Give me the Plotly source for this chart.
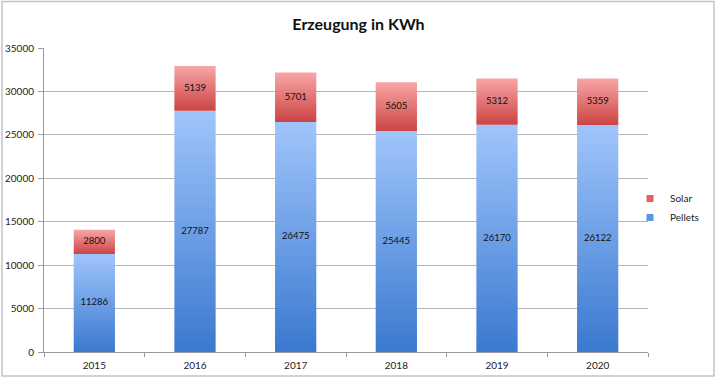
import plotly.graph_objects as go

years = [2015, 2016, 2017, 2018, 2019, 2020]
pellets = [11286, 27787, 26475, 25445, 26170, 26122]
solar = [2800, 5139, 5701, 5605, 5312, 5359]
y_ticks = [0, 5000, 10000, 15000, 20000, 25000, 30000, 35000]

FONT = "Lato"
BAR_W = 0.41
blue_scale = [[0, "#3A79CF"], [1, "#A0C5FC"]]
red_scale = [[0, "#CC4444"], [1, "#F8A6A6"]]

fig = go.Figure()

def add_segments(bases, values, scale, name):
    for x, b, v in zip(years, bases, values):
        top = b + v
        h = BAR_W / 2
        fig.add_trace(go.Scatter(
            x=[x - h, x + h, x + h, x - h, x - h],
            y=[b, b, top, top, b],
            mode="lines", line=dict(width=0, color="rgba(0,0,0,0)"),
            fill="toself",
            fillgradient=dict(type="vertical", colorscale=scale, start=b, stop=top),
            showlegend=False, hoverinfo="skip", name=name,
        ))
    fig.add_trace(go.Scatter(
        x=years, y=[b + v / 2 for b, v in zip(bases, values)],
        mode="text", text=[str(v) for v in values],
        textfont=dict(family=FONT, size=9.5, color="#111111"),
        showlegend=False, hoverinfo="skip",
    ))

add_segments([0] * len(years), pellets, blue_scale, "Pellets")
add_segments(pellets, solar, red_scale, "Solar")

# legend entries
fig.add_trace(go.Scatter(x=[None], y=[None], mode="markers", name="Pellets",
                         marker=dict(symbol="square", size=7, color="#5D95E6")))
fig.add_trace(go.Scatter(x=[None], y=[None], mode="markers", name="Solar",
                         marker=dict(symbol="square", size=7, color="#E06464")))

L, R, T, B = 44, 69, 48, 27
PW, PH = 717 - L - R, 379 - T - B

def px_x(p):
    return (p - L) / PW

def px_y(p):
    return (379 - B - p) / PH

fig.update_layout(
    width=717, height=379,
    margin=dict(l=L, r=R, t=T, b=B),
    paper_bgcolor="white", plot_bgcolor="white",
    title=dict(text="<b>Erzeugung in KWh</b>", x=0.5, xanchor="center",
               y=1 - 24 / 379, yanchor="middle",
               font=dict(family=FONT, size=16, color="#111111")),
    showlegend=True,
    legend=dict(x=px_x(704), y=px_y(184), xanchor="right", yanchor="top",
                traceorder="reversed", font=dict(family=FONT, size=10, color="#222222"),
                bgcolor="rgba(0,0,0,0)", itemclick=False, tracegroupgap=0),
    xaxis=dict(range=[2014.5, 2020.5], tickvals=years, ticktext=[str(y) for y in years],
               automargin=False, ticklabelstandoff=4,
               showgrid=False, zeroline=False, showline=True, linecolor="#9a9a9a", linewidth=1,
               ticks="", tickfont=dict(family=FONT, size=10, color="#222222"),
               minor=dict(tickvals=[y - 0.5 for y in years] + [years[-1] + 0.5],
                          ticks="outside", ticklen=4, tickcolor="#9a9a9a")),
    yaxis=dict(range=[0, 35000], tickvals=y_ticks, ticktext=[str(v) for v in y_ticks],
               automargin=False, ticklabelstandoff=2,
               showgrid=True, gridcolor="#b5b5b5",
               gridwidth=1, zeroline=False, showline=True, linecolor="#9a9a9a", linewidth=1,
               ticks="outside", ticklen=5, tickcolor="#9a9a9a",
               tickfont=dict(family=FONT, size=10, color="#222222")),
    shapes=[dict(type="rect", xref="paper", yref="paper",
                 x0=px_x(2), x1=px_x(714), y0=px_y(376), y1=px_y(1.5),
                 line=dict(color="#c4c4c4", width=1.5), fillcolor="rgba(0,0,0,0)",
                 layer="below")],
)

fig.write_html("out.html", config={"displayModeBar": False},
               post_script="document.body.style.margin='0';")
